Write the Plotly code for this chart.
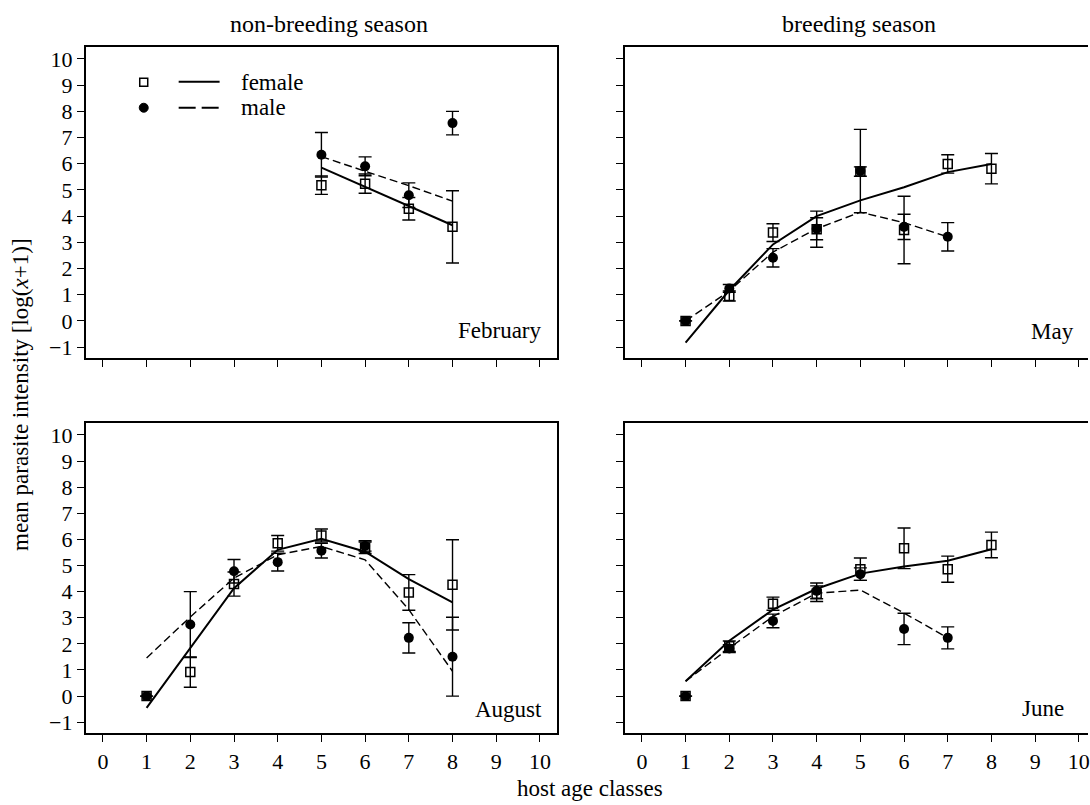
import plotly.graph_objects as go

W, H = 1090, 805
FONT = "Liberation Serif, Times New Roman, serif"

# ---------------- data ----------------
# February (non-breeding)
feb_f_age = [5, 6, 7, 8]
feb_f_mean = [5.18, 5.24, 4.28, 3.59]
feb_f_se = [0.35, 0.37, 0.43, 1.38]
feb_m_age = [5, 6, 7, 8]
feb_m_mean = [6.34, 5.90, 4.80, 7.55]
feb_m_se = [0.85, 0.36, 0.47, 0.45]
feb_f_fit_age = [5, 6, 7, 8]
feb_f_fit = [5.85, 5.11, 4.38, 3.65]
feb_m_fit_age = [5, 6, 7, 8]
feb_m_fit = [6.27, 5.72, 5.16, 4.57]

# May (breeding)
may_f_age = [1, 2, 3, 4, 5, 6, 7, 8]
may_f_mean = [0.0, 0.95, 3.37, 3.50, 5.70, 3.47, 5.99, 5.81]
may_f_se = [0.0, 0.19, 0.34, 0.69, 0.18, 1.29, 0.35, 0.58]
may_m_age = [1, 2, 3, 4, 5, 6, 7]
may_m_mean = [0.0, 1.24, 2.41, 3.52, 5.72, 3.59, 3.21]
may_m_se = [0.0, 0.15, 0.35, 0.42, 1.59, 0.48, 0.54]
may_f_fit_age = [1, 2, 3, 4, 5, 6, 7, 8]
may_f_fit = [-0.83, 1.17, 2.92, 4.00, 4.60, 5.10, 5.68, 5.99]
may_m_fit_age = [1, 2, 3, 4, 5, 6, 7]
may_m_fit = [0.0, 1.14, 2.63, 3.52, 4.15, 3.75, 3.21]

# August (non-breeding)
aug_f_age = [1, 2, 3, 4, 5, 6, 7, 8]
aug_f_mean = [0.0, 0.92, 4.29, 5.85, 6.15, 5.68, 3.97, 4.26]
aug_f_se = [0.0, 0.58, 0.46, 0.30, 0.25, 0.22, 0.68, 1.73]
aug_m_age = [1, 2, 3, 4, 5, 6, 7, 8]
aug_m_mean = [0.0, 2.74, 4.78, 5.13, 5.57, 5.75, 2.23, 1.51]
aug_m_se = [0.0, 1.26, 0.45, 0.34, 0.28, 0.20, 0.58, 1.51]
aug_f_fit_age = [1, 2, 3, 4, 5, 6, 7, 8]
aug_f_fit = [-0.45, 1.84, 4.13, 5.60, 6.02, 5.53, 4.48, 3.59]
aug_m_fit_age = [1, 2, 3, 4, 5, 6, 7, 8]
aug_m_fit = [1.46, 3.03, 4.52, 5.41, 5.73, 5.22, 3.31, 0.95]

# June (breeding)
jun_f_age = [1, 2, 3, 4, 5, 6, 7, 8]
jun_f_mean = [0.0, 1.91, 3.54, 3.92, 4.86, 5.66, 4.86, 5.79]
jun_f_se = [0.0, 0.20, 0.25, 0.30, 0.43, 0.78, 0.50, 0.49]
jun_m_age = [1, 2, 3, 4, 5, 6, 7]
jun_m_mean = [0.0, 1.82, 2.88, 4.03, 4.67, 2.57, 2.23]
jun_m_se = [0.0, 0.15, 0.26, 0.30, 0.24, 0.60, 0.42]
jun_f_fit_age = [1, 2, 3, 4, 5, 6, 7, 8]
jun_f_fit = [0.57, 2.12, 3.31, 4.11, 4.69, 4.96, 5.18, 5.62]
jun_m_fit_age = [1, 2, 3, 4, 5, 6, 7]
jun_m_fit = [0.57, 1.84, 3.05, 3.94, 4.06, 3.18, 2.23]

x_ticks = list(range(0, 11))
y_ticks = list(range(-1, 11))
season_titles = ["non-breeding season", "breeding season"]
month_names = ["February", "May", "August", "June"]
legend_labels = ["female", "male"]
x_title = "host age classes"
y_title = "mean parasite intensity [log(<i>x</i>+1)]"

panels = [
    (feb_f_age, feb_f_mean, feb_f_se, feb_m_age, feb_m_mean, feb_m_se,
     feb_f_fit_age, feb_f_fit, feb_m_fit_age, feb_m_fit),
    (may_f_age, may_f_mean, may_f_se, may_m_age, may_m_mean, may_m_se,
     may_f_fit_age, may_f_fit, may_m_fit_age, may_m_fit),
    (aug_f_age, aug_f_mean, aug_f_se, aug_m_age, aug_m_mean, aug_m_se,
     aug_f_fit_age, aug_f_fit, aug_m_fit_age, aug_m_fit),
    (jun_f_age, jun_f_mean, jun_f_se, jun_m_age, jun_m_mean, jun_m_se,
     jun_f_fit_age, jun_f_fit, jun_m_fit_age, jun_m_fit),
]

# ---------------- layout helpers (pixel -> paper) ----------------
def px(x):
    return x / W

def py(y):
    return 1 - y / H

# panel boxes in pixels: (left, right, top, bottom)
boxes = [
    (86, 558, 47, 359),
    (626, 1090, 47, 359),
    (86, 558, 424, 735),
    (626, 1090, 424, 735),
]
x_ranges = [[-0.39, 10.39], [-0.39, 10.21], [-0.39, 10.39], [-0.39, 10.21]]
y_range = [-1.42, 10.46]

fig = go.Figure()

for i, p in enumerate(panels):
    (fa, fm, fs, ma, mm, ms, ffa, ff, mfa, mf) = p
    xa = "x" if i == 0 else f"x{i+1}"
    ya = "y" if i == 0 else f"y{i+1}"
    fig.add_trace(go.Scatter(
        x=ffa, y=ff, mode="lines", xaxis=xa, yaxis=ya,
        line=dict(color="black", width=2), showlegend=False, hoverinfo="skip"))
    fig.add_trace(go.Scatter(
        x=mfa, y=mf, mode="lines", xaxis=xa, yaxis=ya,
        line=dict(color="black", width=1.4, dash="8px,4px"), showlegend=False,
        hoverinfo="skip"))
    fig.add_trace(go.Scatter(
        x=fa, y=fm, mode="markers", xaxis=xa, yaxis=ya,
        marker=dict(symbol="square-open", size=9, color="black",
                    line=dict(width=1.5, color="black")),
        error_y=dict(type="data", array=fs, visible=True, color="black",
                     thickness=1.4, width=6.5),
        showlegend=False))
    fig.add_trace(go.Scatter(
        x=ma, y=mm, mode="markers", xaxis=xa, yaxis=ya,
        marker=dict(symbol="circle", size=10, color="black"),
        error_y=dict(type="data", array=ms, visible=True, color="black",
                     thickness=1.4, width=6.5),
        showlegend=False))

TICKFONT = dict(family=FONT, size=22, color="black")

layout = dict(
    width=W, height=H,
    margin=dict(l=0, r=0, t=0, b=0),
    paper_bgcolor="white", plot_bgcolor="white",
    font=dict(family=FONT, size=22, color="black"),
    showlegend=False,
)

for i, (l, r, t, b) in enumerate(boxes):
    xk = "xaxis" if i == 0 else f"xaxis{i+1}"
    yk = "yaxis" if i == 0 else f"yaxis{i+1}"
    ya = "y" if i == 0 else f"y{i+1}"
    xa = "x" if i == 0 else f"x{i+1}"
    left_col = i in (0, 2)
    bottom_row = i in (2, 3)
    layout[xk] = dict(
        domain=[px(l), min(px(r), 1.0)], anchor=ya, range=x_ranges[i],
        tickmode="array", tickvals=x_ticks, ticktext=[str(v) for v in x_ticks],
        showticklabels=bottom_row, ticks="outside", ticklen=7, tickwidth=1.3,
        tickcolor="black", showline=True, linecolor="black", linewidth=2,
        mirror=True, showgrid=False, zeroline=False, tickfont=TICKFONT,
        ticklabeloverflow="allow",
    )
    layout[yk] = dict(
        domain=[py(b), py(t)], anchor=xa, range=y_range,
        tickmode="array", tickvals=y_ticks,
        showticklabels=left_col, ticks="outside", ticklen=7, tickwidth=1.3,
        tickcolor="black", showline=True, linecolor="black", linewidth=2,
        mirror=left_col, showgrid=False, zeroline=False, tickfont=TICKFONT,
    )

fig.update_layout(**layout)


def note(text, x, y, size, xanchor="center", angle=0):
    return dict(x=px(x), y=py(y), xref="paper", yref="paper", text=text,
                showarrow=False, xanchor=xanchor, yanchor="middle",
                textangle=angle, font=dict(family=FONT, size=size, color="black"))


annotations = [
    note(season_titles[0], 330, 24, 24),
    note(season_titles[1], 861, 24, 24),
    note(x_title, 591, 790, 23),
    note(y_title, 20, 395, 23, angle=-90),
]
month_pos = [(545, 331), (1078, 332), (545, 711), (1068, 710)]
for name, (mx, my) in zip(month_names, month_pos):
    annotations.append(note(name, mx, my, 23, xanchor="right"))
annotations.append(note(legend_labels[0], 239, 83, 23, xanchor="left"))
annotations.append(note(legend_labels[1], 239, 108, 23, xanchor="left"))

shapes = [
    # legend: open square
    dict(type="rect", xref="paper", yref="paper",
         x0=px(140), x1=px(148), y0=py(86.5), y1=py(78.5),
         line=dict(color="black", width=1.5), fillcolor="white"),
    # legend: filled dot
    dict(type="circle", xref="paper", yref="paper",
         x0=px(139.5), x1=px(148.5), y0=py(112.5), y1=py(103.5),
         line=dict(color="black", width=1), fillcolor="black"),
    # legend: solid line
    dict(type="line", xref="paper", yref="paper",
         x0=px(179), x1=px(220), y0=py(82), y1=py(82),
         line=dict(color="black", width=2)),
    # legend: dashed line
    dict(type="line", xref="paper", yref="paper",
         x0=px(179), x1=px(220), y0=py(108), y1=py(108),
         line=dict(color="black", width=2, dash="17px,6px")),
]

fig.update_layout(annotations=annotations, shapes=shapes)

fig.write_html("out.html")
